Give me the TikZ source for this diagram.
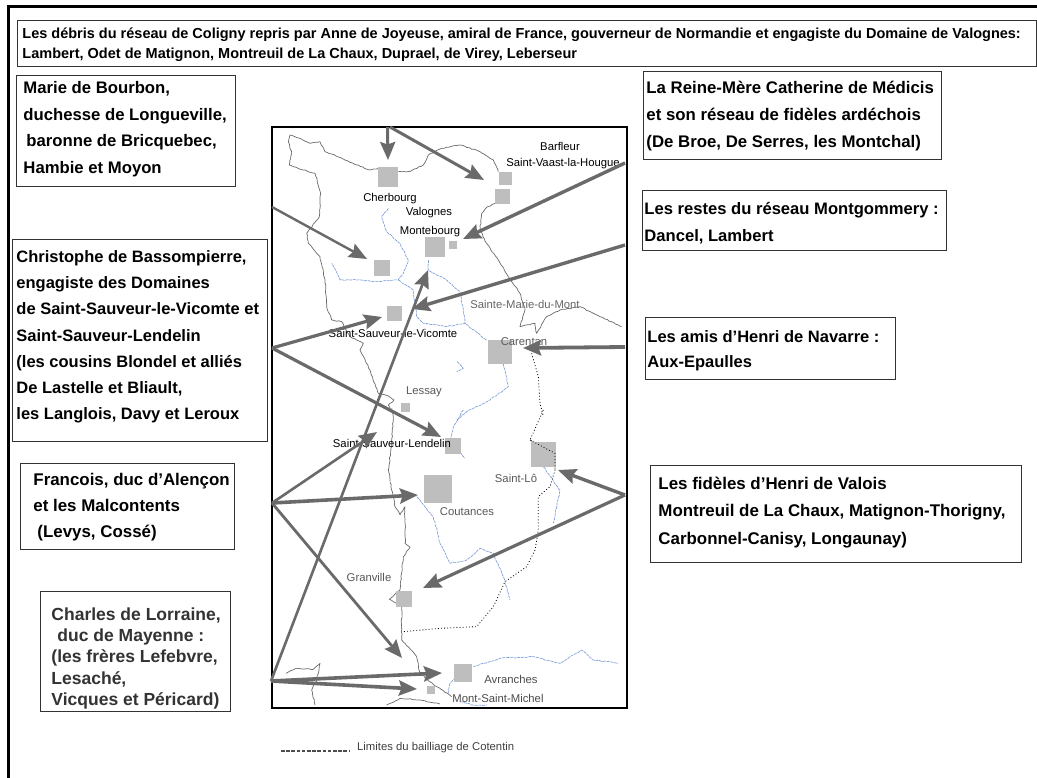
\documentclass[tikz,border=0pt]{standalone}
\usepackage{fontspec}
\setmainfont{Liberation Sans}[Ligatures=ResetAll]
\usetikzlibrary{arrows.meta,decorations.pathmorphing}
\definecolor{arrowgray}{HTML}{6A6A6A}
\definecolor{citygray}{HTML}{BEBEBE}
\definecolor{coastgray}{HTML}{6A6A6A}
\definecolor{riverblue}{HTML}{7496D6}
\definecolor{boxline}{HTML}{333333}
% W H firstbaseline leftoffset skip size
\newcommand{\boxtext}[7]{\parbox[c][#2pt][t]{#1pt}{\fontsize{#6}{#5}\bfseries\lineskiplimit=-100pt\parindent=0pt\leftskip=#4pt\rightskip=0pt plus 1fil\rule{0pt}{#3pt}#7}}
\newcommand{\apos}{\char39\relax}
\tikzset{
  txtbox/.style={draw=boxline,line width=0.9pt,fill=white,inner sep=0pt,anchor=north west,font=\bfseries},
  city/.style={fill=citygray,draw=none,inner sep=0pt,minimum size=#1},
  place/.style={font=\fontsize{11.3}{13}\selectfont,text=#1,inner sep=0pt,anchor=center},
  place/.default=black,
  link/.style={draw=arrowgray,line width=#1,-{Stealth[length=18pt,width=15pt,inset=2.5pt]}},
  link/.default=2.8pt,
  coast/.style={draw=coastgray,line width=0.7pt,line join=round,decorate,decoration={random steps,segment length=2.5pt,amplitude=0.5pt}},
  river/.style={draw=riverblue,line width=0.6pt,line join=round,dash pattern=on 3pt off 0.8pt,decorate,decoration={random steps,segment length=3pt,amplitude=0.5pt}},
  limit/.style={draw=black,line width=0.8pt,dash pattern=on 0.9pt off 2.2pt}
}
\begin{document}
\begin{tikzpicture}[x=1pt,y=-1pt]
\useasboundingbox (0,0) rectangle (1037,778);
\fill[white] (0,0) rectangle (1037,778);
% outer frame
\draw[black,line width=3pt] (8.5,778) -- (8.5,7) -- (1037,7);

% map
\begin{scope}[x=0.33333pt,y=-0.33333pt,shift={(260pt,-110pt)}]
\draw[coast] (355,175)--(330,180)--(290,165)--(255,150)--(215,132)--(195,125)--(180,95)--(150,100)--(120,85)--(90,75)--(85,95)--(95,130)--(88,165)--(130,180)--(165,190)--(182,250)--(178,320)--(140,370)--(145,400)--(180,440)--(195,510)--(200,590)--(215,630)--(245,635)--(270,680)--(310,700)--(300,720)--(330,780)--(355,850)--(385,858)--(402,870)--(385,885)--(395,905);
\draw[coast] (415,185)--(450,185)--(490,165)--(505,135)--(545,115)--(600,105)--(660,125)--(700,150)--(715,185);
\draw[coast] (705,280)--(680,292)--(665,310)--(660,360)--(680,400)--(715,450)--(745,500)--(780,550)--(795,600)--(780,650)--(825,640)--(830,670)--(860,620)--(900,600)--(960,590)--(1020,620)--(1085,650);
\draw[river] (385,295)--(365,320)--(380,365)--(420,400)--(445,450)--(430,490)--(415,510)--(350,515)--(290,510)--(240,510)--(215,460);
\draw[river] (415,510)--(460,540)--(470,620)--(490,640)--(560,650)--(615,640)--(680,690);
\draw[river] (505,450)--(505,480)--(560,510)--(600,545)--(610,600)--(615,640);
\draw[river] (730,760)--(745,830)--(690,870)--(620,905)--(590,930);
\draw[river] (592,755)--(610,775)--(590,785);
\draw[limit] (815,730)--(835,800)--(840,880)--(850,920);
\end{scope}
\begin{scope}[x=0.33333pt,y=-0.33333pt,shift={(260pt,-410pt)}]
\draw[coast] (395,-5)--(400,20)--(395,100)--(385,180)--(405,290)--(420,315)--(435,290)--(435,400)--(450,412)--(430,440)--(420,540)--(388,568)--(425,590)--(425,690)--(470,740)--(480,790)--(530,830)--(575,860);
\draw[coast] (78,790)--(110,775)--(160,778)--(180,760)--(170,810)--(155,840)--(165,885);
\draw[coast] (380,885)--(420,865)--(480,870)--(540,882);
\draw[river] (610,0)--(580,50)--(570,90)--(615,145);
\draw[river] (470,260)--(520,320)--(540,400)--(570,460)--(620,450)--(660,415)--(700,430)--(730,500)--(750,570);
\draw[river] (850,170)--(900,240)--(880,340);
\draw[river] (565,850)--(570,820)--(590,800);
\draw[river] (640,770)--(720,745)--(820,740)--(900,760)--(965,720)--(1000,750)--(1075,760);
\draw[river] (600,875)--(640,885)--(680,885);
\draw[limit] (850,0)--(810,90)--(885,130)--(885,180)--(870,230)--(835,260)--(835,360)--(825,420)--(800,470)--(735,515)--(700,590)--(650,650)--(540,655)--(430,665);
\end{scope}

% city squares
\node[city=20pt] (cherbourg) at (388,177) {};
\node[city=13pt] (barfleur) at (505,179) {};
\node[city=15pt] (vaast) at (502,197) {};
\node[city=20pt] (valognes) at (435,247) {};
\node[city=8pt] (montebourg) at (453,245) {};
\node[city=16pt] (bricquebec) at (382,268) {};
\node[city=15pt] (ssv) at (394,314) {};
\node[city=24pt] (carentan) at (500,352) {};
\node[city=9pt] (lessay) at (405,407) {};
\node[city=16pt] (ssl) at (453,446) {};
\node[city=25pt] (saintlo) at (543,454) {};
\node[city=28pt] (coutances) at (438,489) {};
\node[city=16pt] (granville) at (404,599) {};
\node[city=18pt] (avranches) at (463,673) {};
\node[city=8pt] (msm) at (431,690) {};

% boundary passes over Saint-Lo square
\begin{scope}[x=0.33333pt,y=-0.33333pt,shift={(260pt,-410pt)}]
\draw[limit] (810,90)--(885,130)--(885,180);
\end{scope}

% place names
\node[place] (tBarfleur) at (560,146) {Barfleur};
\node[place] (tVaast) at (563,164) {Saint-Vaast-la-Hougue};
\node[place] (tCherbourg) at (390,199) {Cherbourg};
\node[place] (tValognes) at (429,213) {Valognes};
\node[place] (tMontebourg) at (430,232) {Montebourg};
\node[place=black!60] (tSMM) at (525,304) {Sainte-Marie-du-Mont};
\node[place] (tSSV) at (393,333) {Saint-Sauveur-le-Vicomte};
\node[place=black!65] (tCarentan) at (524,342) {Carentan};
\node[place=black!65] (tLessay) at (424,392) {Lessay};
\node[place] (tSSL) at (392,443) {Saint-Sauveur-Lendelin};
\node[place=black!65] (tSaintLo) at (516,478) {Saint-Lô};
\node[place=black!65] (tCoutances) at (467,512) {Coutances};
\node[place=black!65] (tGranville) at (369,577) {Granville};
\node[place=black!70] (tAvranches) at (511,679) {Avranches};
\node[place=black!70] (tMSM) at (498,698) {Mont-Saint-Michel};

% map frame
\node[draw=black,line width=2.4pt,inner sep=0pt,minimum width=355pt,minimum height=581pt,anchor=north west] (mapframe) at (271,126) {};

% free ends of the connectors
\coordinate (s1) at (387.5,127);
\coordinate (s2) at (390,127);
\coordinate (s3) at (272,207);
\coordinate (s4) at (625,163);
\coordinate (s5) at (625,245);
\coordinate (s6) at (625,347);
\coordinate (s7) at (272,348);
\coordinate (s8) at (272,503);
\coordinate (s9) at (271,681);
\coordinate (s10) at (625,495);
\coordinate (e1) at (388,160);
\coordinate (e2) at (484,180);
\coordinate (e3) at (367,259);
\coordinate (e4) at (463,239);
\coordinate (e5) at (412,309);
\coordinate (e6) at (523,348);
\coordinate (e7) at (382,317);
\coordinate (e8) at (441,437);
\coordinate (e9) at (428,270);
\coordinate (e10) at (377,432);
\coordinate (e11) at (418,495);
\coordinate (e12) at (402,658);
\coordinate (e13) at (442,673);
\coordinate (e14) at (417,689);
\coordinate (e15) at (558,470);
\coordinate (e16) at (423,588);

% connectors
\draw[link=3pt] (s1) -- (e1);
\draw[link=3pt] (s2) -- (e2);
\draw[link=2.4pt] (s3) -- (e3);
\draw[link=3.4pt] (s4) -- (e4);
\draw[link=3.4pt] (s5) -- (e5);
\draw[link=3.8pt] (s6) -- (e6);
\draw[link=3.2pt] (s7) -- (e7);
\draw[link=3.2pt] (s7) -- (e8);
\draw[link=2.6pt] (s9) -- (e9);
\draw[link=2.6pt] (s8) -- (e10);
\draw[link=3.6pt] (s8) -- (e11);
\draw[link=2.8pt] (s8) -- (e12);
\draw[link=3.6pt] (s9) -- (e13);
\draw[link=3.6pt] (s9) -- (e14);
\draw[link=3.4pt] (s10) -- (e15);
\draw[link=3.2pt] (s10) -- (e16);

% text boxes
\node[txtbox] (title) at (17,20) {\boxtext{1019}{46}{18}{5}{20}{14.5}{Les débris du réseau de Coligny repris par Anne de Joyeuse, amiral de France, gouverneur de Normandie et engagiste du Domaine de Valognes:\\Lambert, Odet de Matignon, Montreuil de La Chaux, Duprael, de Virey, Leberseur}};
\node[txtbox] (marie) at (16,75) {\boxtext{219}{111}{18}{7}{26.7}{16.7}{Marie de Bourbon,\\duchesse de Longueville,\\\hspace*{3pt}baronne de Bricquebec,\\Hambie et Moyon}};
\node[txtbox] (christophe) at (12,239) {\boxtext{255}{202}{23}{4}{26.2}{16.5}{Christophe de Bassompierre,\\engagiste des Domaines\\de Saint-Sauveur-le-Vicomte et\\Saint-Sauveur-Lendelin\\(les cousins Blondel et alliés\\De Lastelle et Bliault,\\les Langlois, Davy et Leroux}};
\node[txtbox] (francois) at (20,463) {\boxtext{214}{86}{22}{13}{26}{16.9}{Francois, duc d\apos Alençon\\et les Malcontents\\\hspace*{4pt}(Levys, Cossé)}};
\node[txtbox] (charles) at (40,591) {\boxtext{190}{120}{29}{11}{21.2}{17.5}{\color{black!80}Charles de Lorraine,\\\hspace*{6pt}duc de Mayenne :\\(les frères Lefebvre,\\Lesaché,\\Vicques et Péricard)}};
\node[txtbox] (reine) at (643,71) {\boxtext{298}{88}{22}{3}{27}{16.8}{La Reine-Mère Catherine de Médicis\\et son réseau de fidèles ardéchois\\(De Broe, De Serres, les Montchal)}};
\node[txtbox] (montgommery) at (642,190) {\boxtext{304}{60}{24}{2}{27}{16.6}{Les restes du réseau Montgommery :\\Dancel, Lambert}};
\node[txtbox] (navarre) at (645,317) {\boxtext{250}{62}{25}{2}{25.5}{16.5}{Les amis d\apos Henri de Navarre :\\Aux-Epaulles}};
\node[txtbox] (valois) at (650,465) {\boxtext{371}{97}{24}{8}{27.5}{16.9}{Les fidèles d\apos Henri de Valois\\Montreuil de La Chaux, Matignon-Thorigny,\\Carbonnel-Canisy, Longaunay)}};

% legend
\coordinate (legA) at (281,751);
\coordinate (legB) at (349,751);
\draw[draw=black!70,line width=1.2pt,dash pattern=on 3.6pt off 1.6pt] (legA) -- (legB);
\node[place=black!75,anchor=west] (legend) at (357,748) {Limites du bailliage de Cotentin};
\end{tikzpicture}
\end{document}
